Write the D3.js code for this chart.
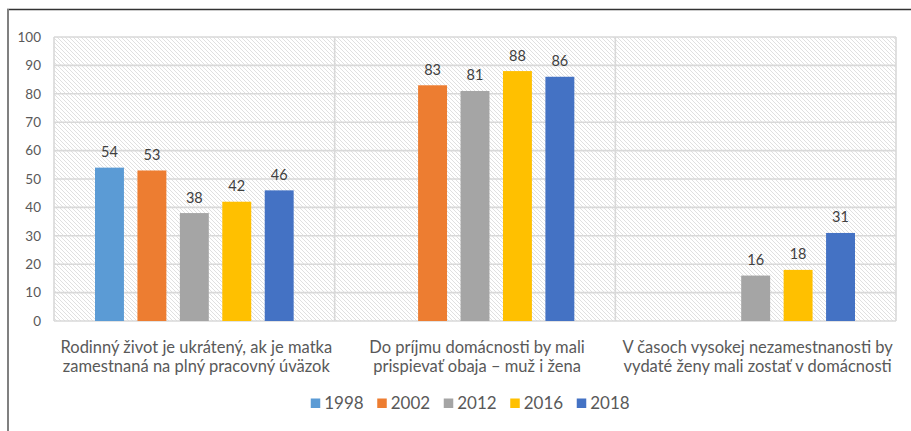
<!DOCTYPE html>
<html>
<head>
<meta charset="utf-8">
<script src="https://cdn.jsdelivr.net/npm/d3@7"></script>
<style>
  html, body { margin: 0; padding: 0; background: #fff; }
  svg { display: block; font-family: Lato, "Open Sans", sans-serif; }
</style>
</head>
<body>
<div id="chart"></div>
<script>
// data
const categories = [
  ["Rodinný život je ukrátený, ak je matka", "zamestnaná na plný pracovný úväzok"],
  ["Do príjmu domácnosti by mali", "prispievať obaja – muž i žena"],
  ["V časoch vysokej nezamestnanosti by", "vydaté ženy mali zostať v domácnosti"]
]
const years = ["1998", "2002", "2012", "2016", "2018"]
const colors = ["#5B9BD5", "#ED7D31", "#A5A5A5", "#FFC000", "#4472C4"]
// one array per year, value for each category (null = no bar)
const v1998 = [54, null, null]
const v2002 = [53, 83, null]
const v2012 = [38, 81, 16]
const v2016 = [42, 88, 18]
const v2018 = [46, 86, 31]
const yTicks = [0, 10, 20, 30, 40, 50, 60, 70, 80, 90, 100]

const series = [v1998, v2002, v2012, v2016, v2018]
const W = 911, H = 431
const plot = {left: 54, right: 896, top: 37, bottom: 321}

const svg = d3.select("#chart").append("svg")
    .attr("width", W).attr("height", H)

// hatch pattern for plot background
const defs = svg.append("defs")
const pat = defs.append("pattern")
    .attr("id", "hatch")
    .attr("patternUnits", "userSpaceOnUse")
    .attr("width", 4).attr("height", 4)
pat.append("rect").attr("width", 4).attr("height", 4).attr("fill", "#fff")
pat.append("path")
    .attr("d", "M-1,-1 L5,5 M-1,3 L1,5 M3,-1 L5,1")
    .attr("stroke", "#d8d8d8").attr("stroke-width", 0.8)

// outer frame (only top and left are visible in the crop)
svg.append("line").attr("x1", 7).attr("x2", W).attr("y1", 9.5).attr("y2", 9.5)
    .attr("stroke", "#333").attr("stroke-width", 1.5)
svg.append("line").attr("x1", 8).attr("x2", 8).attr("y1", 9).attr("y2", H)
    .attr("stroke", "#808080").attr("stroke-width", 2)

const catIdx = d3.range(categories.length)
const x0 = d3.scaleBand().domain(catIdx).range([plot.left, plot.right]).padding(0)
const x1 = d3.scaleBand().domain(years)
    .range([41, x0.bandwidth() - 41])
    .paddingInner(0.318).paddingOuter(0)
const y = d3.scaleLinear().domain([0, 100]).range([plot.bottom, plot.top])

svg.append("rect")
    .attr("x", plot.left).attr("y", plot.top)
    .attr("width", plot.right - plot.left).attr("height", plot.bottom - plot.top)
    .attr("fill", "url(#hatch)")

// horizontal gridlines
svg.append("g").selectAll("line").data(yTicks).join("line")
    .attr("x1", plot.left).attr("x2", plot.right)
    .attr("y1", d => y(d)).attr("y2", d => y(d))
    .attr("stroke", "#d9d9d9").attr("stroke-width", 1.6)

// vertical category separators + plot edges
svg.append("g").selectAll("line").data(catIdx.concat([categories.length])).join("line")
    .attr("x1", d => d < categories.length ? x0(d) : plot.right)
    .attr("x2", d => d < categories.length ? x0(d) : plot.right)
    .attr("y1", plot.top).attr("y2", plot.bottom)
    .attr("stroke", "#d9d9d9").attr("stroke-width", 1.6)

// y axis labels
const yAxis = d3.axisLeft(y).tickValues(yTicks).tickSize(0).tickPadding(13)
svg.append("g").attr("transform", `translate(${plot.left},0)`).call(yAxis)
    .call(g => g.select(".domain").remove())
    .call(g => g.selectAll("text")
        .attr("fill", "#595959").style("font-size", "13.5px")
        .style("font-family", "Lato, sans-serif"))

// bars
const groups = svg.append("g").selectAll("g").data(catIdx).join("g")
    .attr("transform", d => `translate(${x0(d)},0)`)

const cells = groups.selectAll("g")
    .data(c => years.map((yr, i) => ({yr: yr, i: i, v: series[i][c]})).filter(d => d.v != null))
    .join("g")

cells.append("rect")
    .attr("x", d => x1(d.yr))
    .attr("width", x1.bandwidth())
    .attr("y", d => y(d.v))
    .attr("height", d => y(0) - y(d.v))
    .attr("fill", d => colors[d.i])

cells.append("text")
    .attr("x", d => x1(d.yr) + x1.bandwidth() / 2)
    .attr("y", d => y(d.v) - 10.5)
    .attr("text-anchor", "middle")
    .attr("fill", "#404040")
    .style("font-size", "14.5px")
    .text(d => d.v)

// category labels
const catLbl = svg.append("g").selectAll("text").data(catIdx).join("text")
    .attr("x", d => x0(d) + x0.bandwidth() / 2 + 2)
    .attr("text-anchor", "middle")
    .attr("fill", "#595959")
    .style("font-size", "16.5px")
catLbl.selectAll("tspan").data(d => categories[d]).join("tspan")
    .attr("x", function () { return d3.select(this.parentNode).attr("x") })
    .attr("y", (d, i) => 352.5 + i * 19.5)
    .text(d => d)

// legend
const step = 66.5
const legend = svg.append("g")
    .attr("transform", `translate(${465 - step * years.length / 2 + 12},0)`)
const li = legend.selectAll("g").data(years).join("g")
    .attr("transform", (d, i) => `translate(${i * step},0)`)
li.append("rect").attr("x", 0).attr("y", 398.5).attr("width", 9.5).attr("height", 9.5)
    .attr("fill", (d, i) => colors[i])
li.append("text").attr("x", 13.5).attr("y", 409)
    .attr("fill", "#595959").style("font-size", "17px")
    .text(d => d)
</script>
</body>
</html>
